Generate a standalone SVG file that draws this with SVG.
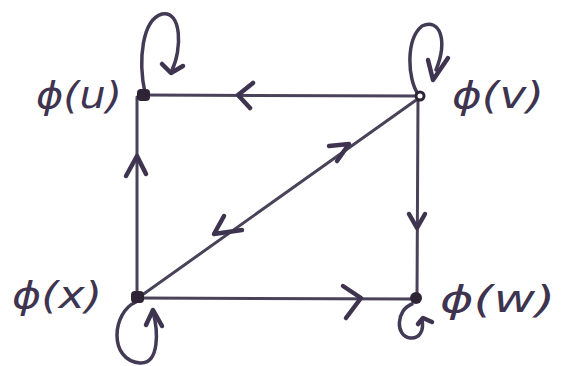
<svg xmlns="http://www.w3.org/2000/svg" width="562" height="366" viewBox="0 0 562 366">
<style>
.e{stroke:#4a4258;stroke-width:3;fill:none;stroke-linecap:round}
.a{stroke:#3e3450;stroke-width:4.5;fill:none;stroke-linecap:round;stroke-linejoin:round}
.l{stroke:#433a55;stroke-width:3.5;fill:none;stroke-linecap:round}
.t{font-family:"DejaVu Sans",sans-serif;font-style:italic;font-size:38px;fill:#3e3450}
</style>
<rect width="562" height="366" fill="#fff"/>
<g id="connectors">
<line class="e" x1="143" y1="95" x2="420" y2="96"/>
<path class="a" d="M253 83 L238 95 L250 108"/>
<line class="e" x1="137" y1="97" x2="137" y2="297"/>
<path class="a" d="M126 176 L137 156 L146 174"/>
<line class="e" x1="418" y1="98" x2="417" y2="298"/>
<path class="a" d="M409 214 L417 228 L425 214"/>
<line class="e" x1="138" y1="298" x2="416" y2="299"/>
<path class="a" d="M343 286 L361 298 L346 318"/>
<line class="e" x1="138" y1="298" x2="419" y2="98"/>
<path class="a" d="M329 146 L349 144 L337 161"/>
<path class="a" d="M224 216 L214 234 L242 230"/>
<path class="l" d="M145 93 C138 60 142 20 162 14 C182 10 182 50 172 70"/>
<path class="a" d="M162 64 L171 73 L183 66"/>
<path class="l" d="M418 94 C408 80 405 40 422 26 C440 18 448 40 436 70"/>
<path class="a" d="M428 60 L433 80 L448 58"/>
<path class="l" d="M136 302 C112 312 108 360 140 363 C160 364 158 330 153 312"/>
<path class="a" d="M146 325 L153 310 L162 326"/>
<path class="l" d="M412 304 C396 310 395 336 410 338 C420 339 424 330 422 320"/>
<path class="a" d="M418 324 L423 318 L432 322"/>
</g>
<g id="u"><rect x="137" y="89" width="13" height="12" rx="4" fill="#2e2436"/><text class="t" x="36" y="108" textLength="86" lengthAdjust="spacingAndGlyphs">ϕ(u)</text></g>
<g id="v"><circle cx="420" cy="96" r="4" fill="#fff" stroke="#2e2436" stroke-width="3"/><text class="t" x="452" y="108" textLength="92" lengthAdjust="spacingAndGlyphs">ϕ(v)</text></g>
<g id="x"><rect x="131" y="291" width="13" height="12" rx="4" fill="#2e2436"/><text class="t" x="12" y="308" textLength="90" lengthAdjust="spacingAndGlyphs">ϕ(x)</text></g>
<g id="w"><circle cx="416" cy="298" r="6" fill="#2e2436"/><text class="t" x="440" y="312" textLength="115" lengthAdjust="spacingAndGlyphs">ϕ(w)</text></g>
</svg>
